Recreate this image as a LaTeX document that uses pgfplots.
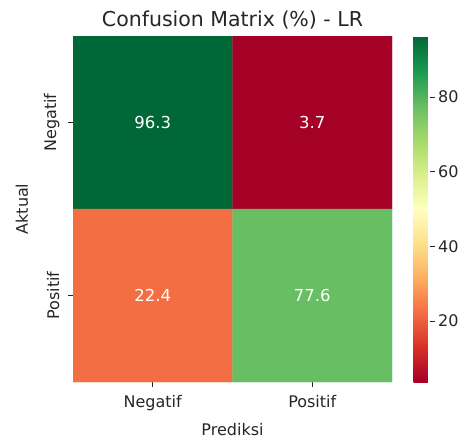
\documentclass[border=0pt]{standalone}
\usepackage{pgfplots}
\pgfplotsset{compat=1.18}
\usepackage{fontspec}
\setmainfont{DejaVu Sans}
\usetikzlibrary{calc}
\definecolor{tickgray}{RGB}{38,38,38}
\pgfplotsset{
  colormap={RdYlGn}{
    rgb255=(165,0,38) rgb255=(215,48,39) rgb255=(244,109,67) rgb255=(253,174,97)
    rgb255=(254,224,139) rgb255=(255,255,191) rgb255=(217,239,139) rgb255=(166,217,106)
    rgb255=(102,189,99) rgb255=(26,152,80) rgb255=(0,104,55)}
}
\pgfplotstableread{
x y v
0 0 96.3
1 0 3.7
0 1 22.4
1 1 77.6
}\cm
\begin{document}
\begin{tikzpicture}
\begin{axis}[
  name=ax,
  scale only axis,
  width=319pt, height=346pt,
  xmin=-0.5, xmax=1.5, ymin=-0.5, ymax=1.5,
  y dir=reverse,
  axis line style={draw=none},
  xtick={0,1}, xticklabels={Negatif,Positif},
  ytick={0,1}, yticklabels={Negatif,Positif},
  xtick pos=bottom, ytick pos=left,
  yticklabel style={rotate=90, anchor=south},
  xticklabel shift=5pt, yticklabel shift=5pt,
  tick align=outside,
  major tick length=5pt,
  tick style={tickgray, line width=0.6pt},
  ticklabel style={font=\fontsize{16}{18}\selectfont, text=tickgray},
  xlabel={Prediksi}, ylabel={Aktual},
  label style={font=\fontsize{16}{18}\selectfont, text=tickgray},
  xlabel style={yshift=-5pt},
  ylabel style={yshift=9pt},
  title={Confusion Matrix (\%) - LR},
  title style={font=\fontsize{20.5}{24}\selectfont, text=tickgray, yshift=-3pt},
  colormap name=RdYlGn,
  point meta min=3.7, point meta max=96.3,
  colorbar,
  colorbar style={
    width=16pt, height=346pt,
    at={(parent axis.north east)}, anchor=north west, xshift=13pt,
    axis line style={draw=none},
    ytick={20,40,60,80},
    ytick pos=right,
    tick align=outside,
    major tick length=5pt,
    tick style={tickgray, line width=0.6pt},
    yticklabel style={font=\fontsize{16}{18}\selectfont, text=tickgray},
    /pgf/number format/assume math mode=true,
  },
  /pgf/number format/assume math mode=true,
]
\addplot[matrix plot*, mesh/cols=2, point meta=explicit] table[x=x, y=y, meta=v] {\cm};
\addplot[only marks, mark=none, point meta=explicit symbolic,
  nodes near coords, nodes near coords align=center,
  every node near coord/.append style={font=\fontsize{16.5}{18}\selectfont, text=white}]
  table[x=x, y=y, meta=v] {\cm};
\end{axis}
\pgfresetboundingbox
\path[use as bounding box] ($(ax.south west)+(-73pt,-57pt)$) rectangle ($(ax.north east)+(72pt,36pt)$);
\end{tikzpicture}
\end{document}
